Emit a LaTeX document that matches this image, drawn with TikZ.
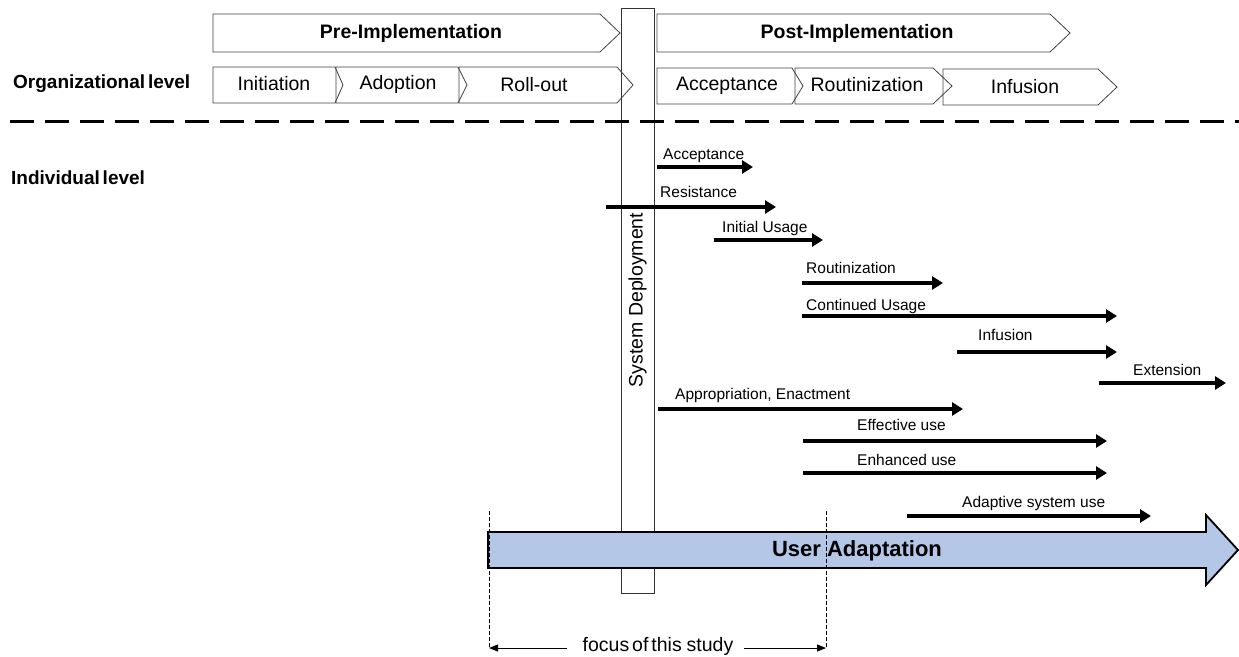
\documentclass[tikz,border=0pt]{standalone}
\usepackage{fontspec}
\setmainfont{Liberation Sans}
\usetikzlibrary{arrows.meta}
\definecolor{uablue}{HTML}{B4C7E7}
\tikzset{
  chev/.style={draw=black!75, line width=0.8pt},
  chevtxt/.style={font=\fontsize{19.5}{22}\selectfont, inner sep=0pt},
  phasetxt/.style={font=\bfseries\fontsize{19.5}{22}\selectfont, inner sep=0pt},
  leveltxt/.style={font=\bfseries\fontsize{19}{22}\selectfont, inner sep=0pt, anchor=west},
  arrtxt/.style={font=\fontsize{15.5}{18}\selectfont, inner sep=0pt, anchor=base west},
  thickarr/.style={line width=3.6pt, -{Triangle[length=11pt,width=13pt]}},
  focusarr/.style={line width=1pt, -{Triangle[length=9pt,width=7pt]}},
  guide/.style={dashed, dash pattern=on 4pt off 2pt, line width=0.7pt},
}
\newcommand{\chevron}[6]{% name, x1, x2, xp, y1, y2
  \draw[chev] (#2,#5) -- (#3,#5) -- (#4,{(#5+#6)/2}) -- (#3,#6) -- (#2,#6) -- cycle;
  \coordinate (#1) at ({(#2+#3)/2},{(#5+#6)/2});
}
\newcommand{\uarrow}[7]{% name, x1, x2, y, labelx, labely(baseline), text
  \coordinate (#1s) at (#2,#4);
  \coordinate (#1e) at (#3,#4);
  \node[arrtxt] (#1l) at (#5,#6) {#7};
  \draw[thickarr] (#1s) -- (#1e);
}
\begin{document}
\begin{tikzpicture}[x=1pt,y=-1pt]
\useasboundingbox (0,0) rectangle (1239,656);

% System deployment box
\node[draw=black!80, line width=0.8pt, minimum width=33pt, minimum height=585pt, inner sep=0pt, anchor=north west] (dep) at (621,8) {};
\node[rotate=90, font=\fontsize{19.5}{22}\selectfont, inner sep=0pt] (deptxt) at (637.5,300) {System Deployment};

% dashed separator
\coordinate (ds) at (10,121);
\coordinate (de) at (1239,121);
\draw[line width=3pt, dash pattern=on 24pt off 11pt] (ds) -- (de);

% Phase chevrons
\chevron{pre}{213}{600}{620}{14}{52}
\node[phasetxt] (pretxt) at (411,33) {Pre-Implementation};
\chevron{post}{657}{1050}{1070}{14}{52}
\node[phasetxt] (posttxt) at (857,33) {Post-Implementation};

% Organizational stages
\chevron{ini}{213}{335}{343}{67}{103}
\chevron{ado}{336}{458}{467}{67}{103}
\chevron{rol}{459}{617}{633}{67}{103}
\node[chevtxt] (initxt) at (274,84) {Initiation};
\node[chevtxt] (adotxt) at (398,84) {Adoption};
\node[chevtxt] (roltxt) at (534,85) {Roll-out};

\chevron{acc}{657}{792}{803}{68}{104}
\chevron{rou}{795}{933}{952}{68}{104}
\chevron{inf}{943}{1098}{1117}{69}{105}
\node[chevtxt] (acctxt) at (727,86) {Acceptance};
\node[chevtxt] (routxt) at (867,85) {Routinization};
\node[chevtxt] (inftxt) at (1025,87) {Infusion};

% level labels
\node[leveltxt] (org) at (13,84) {Organizational\hspace{0.15em}level};
\node[leveltxt] (ind) at (11,178) {Individual\hspace{0.15em}level};

% Individual-level arrows
\uarrow{a1}{657}{753}{167}{663}{159}{Acceptance}
\uarrow{a2}{606}{776}{207}{660}{197}{Resistance}
\uarrow{a3}{714}{823}{240}{722}{232}{Initial Usage}
\uarrow{a4}{802}{943}{283}{806}{273}{Routinization}
\uarrow{a5}{802}{1117}{316}{806}{310}{Continued Usage}
\uarrow{a6}{957}{1117}{352}{978}{340}{Infusion}
\uarrow{a7}{1099}{1226}{383}{1133}{375}{Extension}
\uarrow{a8}{658}{963}{409}{675}{399}{Appropriation, Enactment}
\uarrow{a9}{803}{1107}{441}{857}{430}{Effective use}
\uarrow{a10}{803}{1107}{473}{857}{465}{Enhanced use}
\uarrow{a11}{907}{1151}{516}{962}{507}{Adaptive system use}

% User adaptation big arrow
\draw[line width=1.8pt, fill=uablue, line join=miter]
  (488,532) -- (1206,532) -- (1206,515) -- (1238,550) -- (1206,585) -- (1206,568) -- (488,568) -- cycle;
\node[font=\bfseries\fontsize{22}{25}\selectfont, inner sep=0pt] (ua) at (857,551) {User Adaptation};

% focus of this study
\coordinate (g1t) at (489,511);
\coordinate (g1b) at (489,648);
\coordinate (g2t) at (826,511);
\coordinate (g2b) at (826,648);
\draw[guide] (g1t) -- (g1b);
\draw[guide] (g2t) -- (g2b);
\node[font=\fontsize{19.5}{22}\selectfont, inner sep=0pt] (focus) at (658,646) {focus\hspace{0.15em}of\hspace{0.15em}this\hspace{0.25em}study};
\coordinate (f1) at (567,648);
\coordinate (f2) at (744,648);
\draw[focusarr] (f1) -- (g1b);
\draw[focusarr] (f2) -- (g2b);
\end{tikzpicture}
\end{document}
